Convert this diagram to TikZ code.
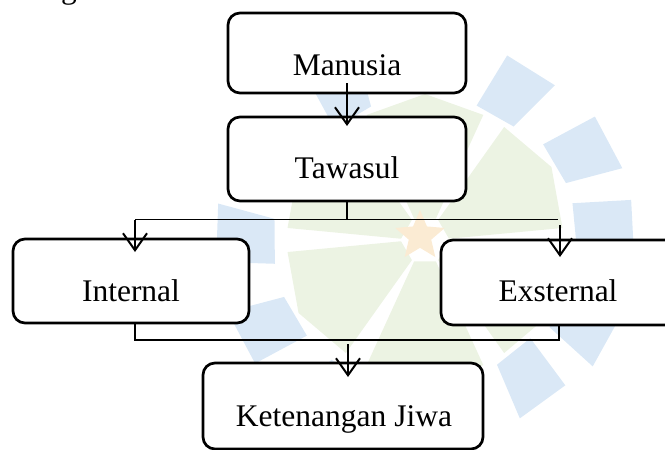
\documentclass[tikz,border=0pt]{standalone}
\usepackage{fontspec}
\setmainfont{Liberation Serif}
\usetikzlibrary{arrows.meta,calc,shapes.geometric}
\definecolor{wmblue}{HTML}{DAE8F6}
\definecolor{wmgreen}{HTML}{ECF3E3}
\definecolor{wmstar}{HTML}{FBEBD3}
\tikzset{
  flowbox/.style={draw=black, line width=2.7pt, rounded corners=12pt, fill=white,
    inner sep=0pt, outer sep=0pt},
  boxtext/.style={anchor=base, inner sep=0pt, font=\fontsize{31.5}{36}\selectfont},
  arr/.style={line width=2pt, -{Straight Barb[length=17pt,width=24pt,line width=2pt]}},
  link/.style={line width=1.2pt},
}
\begin{document}
\begin{tikzpicture}[x=1pt,y=-1pt]
\useasboundingbox (0,0) rectangle (665,450);
\clip (0,0) rectangle (665,450);
% ---- watermark ----
\coordinate (C) at (425,240);
\foreach \a in {0,60,120,180,240,300}{
  \pgfmathsetmacro{\aa}{\a+3}\pgfmathsetmacro{\ab}{\a+5}
  \pgfmathsetmacro{\ac}{\a+30}\pgfmathsetmacro{\ad}{\a+55}\pgfmathsetmacro{\ae}{\a+57}
  \fill[wmgreen] ($(C)+(\aa:24)$) -- ($(C)+(\ab:138)$) -- ($(C)+(\ac:146)$)
     -- ($(C)+(\ad:138)$) -- ($(C)+(\ae:24)$) -- cycle;
}
\foreach \a/\r in {-5/0,27/0,52/-8,90/0,120/0,150/0,180/0,240/-8,270/0,300/-8,330/0}{
  \pgfmathsetmacro{\aa}{\a-9}\pgfmathsetmacro{\ab}{\a-6}
  \pgfmathsetmacro{\ac}{\a+10}\pgfmathsetmacro{\ad}{\a+8}
  \pgfmathsetmacro{\ri}{152+\r}\pgfmathsetmacro{\ro}{210+\r}
  \fill[wmblue] ($(C)+(\aa:\ri)$) -- ($(C)+(\ab:\ro)$) -- ($(C)+(\ac:\ro)$)
     -- ($(C)+(\ad:\ri)$) -- cycle;
}
\node[star, star points=5, star point ratio=2.2, fill=wmstar, minimum size=52pt,
  inner sep=0pt] (wmstarnode) at (420,236) {};
% ---- fragment of preceding text ----
\node[anchor=base west, inner sep=0pt, font=\fontsize{31.5}{36}\selectfont] (frag) at (61,-2) {g};
% ---- boxes ----
\node[flowbox, minimum width=238pt, minimum height=80pt] (man) at (347,53) {};
\node[flowbox, minimum width=238pt, minimum height=84pt] (taw) at (347,159) {};
\node[flowbox, minimum width=236pt, minimum height=84pt] (int) at (131,281) {};
\node[flowbox, minimum width=260pt, minimum height=85pt] (ext) at (571,282.5) {};
\node[flowbox, minimum width=280pt, minimum height=86pt] (ket) at (343,406) {};
\node[boxtext] (manT) at (347,75) {Manusia};
\node[boxtext] (tawT) at (347,178) {Tawasul};
\node[boxtext] (intT) at (131,301) {Internal};
\node[boxtext] (extT) at (558,301) {Exsternal};
\node[boxtext] (ketT) at (344,426) {Ketenangan Jiwa};
% ---- connectors ----
\draw[arr] ([yshift=10pt]man.south) -- ([yshift=-9pt]taw.north);
\coordinate (sp) at (347,219.5);
\coordinate (spL) at (135,219.5);
\coordinate (spR) at (558,219.5);
\coordinate (spR2) at (560,225);
\draw[link] (taw.south) -- (sp);
\draw[link] (spL) -- (spR);
\draw[arr] (spL) -- ([yshift=-13pt]spL |- int.north);
\draw[arr] (spR2) -- ([yshift=-17pt]spR2 |- ext.north);
\coordinate (jL) at (135,340);
\coordinate (jR) at (559,340);
\coordinate (jm) at (348,344);
\draw[link] (jL |- int.south) -- (jL) -- (jR) -- (jR |- ext.south);
\draw[arr] (jm) -- ([yshift=-14pt]jm |- ket.north);
\end{tikzpicture}
\end{document}
